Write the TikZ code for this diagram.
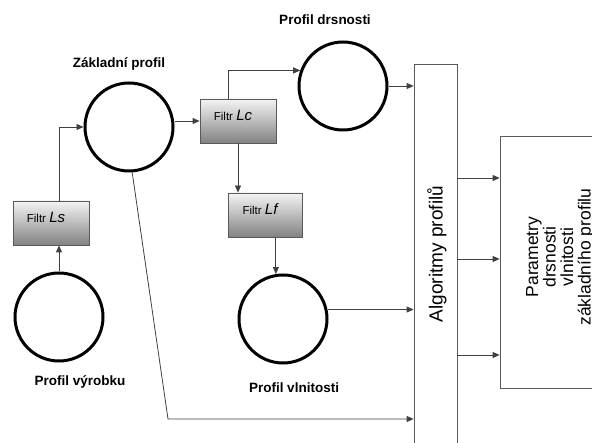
\documentclass[tikz,border=0pt]{standalone}
\usepackage{fontspec}
\setmainfont{Liberation Sans}
\usetikzlibrary{arrows.meta,positioning,calc}
\definecolor{linegray}{HTML}{404040}
\definecolor{boxedge}{HTML}{5A5A5A}
\definecolor{shadetop}{HTML}{F4F4F4}
\definecolor{shadebot}{HTML}{828282}

\tikzset{
  circ/.style={circle,draw=black,line width=3pt,minimum size=88pt,inner sep=0pt},
  filterbox/.style={draw=boxedge,line width=0.8pt,top color=shadetop,bottom color=shadebot,
    minimum width=76pt,minimum height=44pt,inner sep=0pt,text height=5pt,text depth=5pt,
    font=\fontsize{11.5}{13}\selectfont},
  lbl/.style={font=\fontsize{13.5}{15}\selectfont\bfseries},
  arr/.style={draw=linegray,line width=0.8pt,-{Triangle[length=7pt,width=6pt]}}
}
\newcommand{\filt}[1]{Filtr {\fontsize{15}{16}\selectfont\itshape #1}\hspace*{10pt}}

\begin{document}
\begin{tikzpicture}[x=1pt,y=-1pt]
  \clip (0,0) rectangle (592,443);

  % profiles
  \node[circ] (vyrobek) at (59,317) {};
  \node[circ] (zakladni) at (129,127) {};
  \node[circ] (drsnost) at (343,86) {};
  \node[circ] (vlnitost) at (283,319) {};
  \node[lbl] (lblvyrobek) at (80,382) {Profil výrobku};
  \node[lbl] (lblzakladni) at (119,64) {Základní profil};
  \node[lbl] (lbldrsnost) at (325,20) {Profil drsnosti};
  \node[lbl] (lblvlnitost) at (294,388) {Profil vlnitosti};

  % filters
  \node[filterbox] (filtrLs) at (51,223) {\filt{Ls}};
  \node[filterbox] (filtrLc) at (238,121) {\filt{Lc}};
  \node[filterbox,minimum width=74pt] (filtrLf) at (265,215) {\filt{Lf}};

  % algorithms and parameters
  \node[draw=boxedge,line width=0.8pt,minimum width=43pt,minimum height=386pt,inner sep=0pt] (algoritmy) at (435.5,257) {};
  \node[rotate=90,font=\fontsize{19}{20}\selectfont] (lblalgoritmy) at (437,254) {Algoritmy profilů};
  \node[draw=boxedge,line width=0.8pt,minimum width=108pt,minimum height=252pt,inner sep=0pt] (parametry) at (554,262) {};
  \node[rotate=90,anchor=north,inner sep=0pt,align=center,font=\fontsize{17.5}{17.5}\selectfont] (lblparametry) at (526,257)
    {Parametry\\drsnosti\\vlnitosti\\základního profilu};

  % connectors
  \draw[arr] (vyrobek.north) -- (vyrobek.north |- filtrLs.south);
  \draw[arr] (vyrobek.north |- filtrLs.north) |- (zakladni.west);
  \draw[arr] (zakladni.east |- filtrLc) -- (filtrLc.west);
  \draw[arr] ([xshift=-10pt]filtrLc.north) |- (drsnost.160);
  \draw[arr] (drsnost.east) -- (drsnost.east -| algoritmy.west);
  \draw[arr] (filtrLc.south) -- (filtrLc.south |- filtrLf.north);
  \draw[arr] (vlnitost.99 |- filtrLf.south) -- (vlnitost.99);
  \draw[arr] (vlnitost.12) -- (vlnitost.12 -| algoritmy.west);
  \coordinate (knee) at (168,419);
  \draw[arr] (zakladni.-86) -- (knee) -- (knee -| algoritmy.west);
  \foreach \yy [count=\i] in {178,259,355} {
    \coordinate (out\i) at (0,\yy);
    \draw[arr] (algoritmy.east |- out\i) -- (parametry.west |- out\i);
  }
\end{tikzpicture}
\end{document}
